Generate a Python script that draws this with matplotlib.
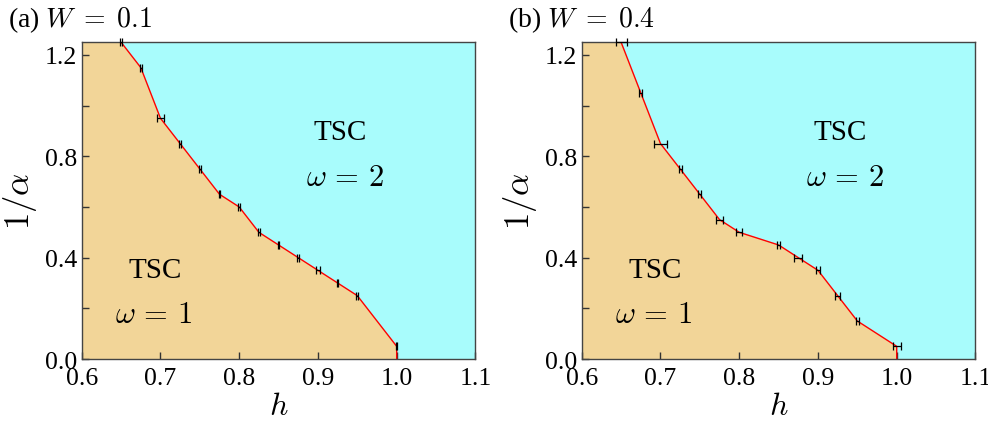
import matplotlib
matplotlib.use("Agg")
import matplotlib.pyplot as plt
from matplotlib.ticker import MultipleLocator

plt.rcParams["mathtext.fontset"] = "cm"
plt.rcParams["font.family"] = ["Liberation Serif", "DejaVu Serif"]

# Phase boundary of panel (a), W = 0.1
h_a = [0.65, 0.675, 0.70, 0.725, 0.75, 0.775, 0.80, 0.825, 0.85, 0.875, 0.90, 0.925, 0.95, 1.00]
inv_a = [1.25, 1.15, 0.95, 0.85, 0.75, 0.65, 0.60, 0.50, 0.45, 0.40, 0.35, 0.30, 0.25, 0.05]
err_a = [0.001, 0.001, 0.005, 0.0015, 0.001, 0.001, 0.0015, 0.001, 0.001, 0.001, 0.002, 0.001, 0.0015, 0.001]

# Phase boundary of panel (b), W = 0.4
h_b = [0.65, 0.675, 0.70, 0.725, 0.75, 0.775, 0.80, 0.85, 0.875, 0.90, 0.925, 0.95, 1.00]
inv_b = [1.25, 1.05, 0.85, 0.75, 0.65, 0.55, 0.50, 0.45, 0.40, 0.35, 0.25, 0.15, 0.05]
err_b = [0.007, 0.002, 0.008, 0.002, 0.002, 0.004, 0.004, 0.002, 0.005, 0.003, 0.003, 0.002, 0.005]

panels = [("(a)", "0.1", h_a, inv_a, err_a), ("(b)", "0.4", h_b, inv_b, err_b)]

xlim = (0.6, 1.1)
ylim = (0.0, 1.25)
xticks = [0.6, 0.7, 0.8, 0.9, 1.0, 1.1]
yticks = [0.0, 0.4, 0.8, 1.2]

orange = "#F2D598"
cyan = "#A8FCFC"

fig = plt.figure(figsize=(9.88, 4.31), dpi=100)
lefts = [0.0827, 0.5888]

for left, (tag, wval, h, inv, err) in zip(lefts, panels):
    ax = fig.add_axes([left, 0.1647, 0.3985, 0.735])
    ax.set_facecolor(cyan)
    # topological phase omega = 1 region below the boundary
    px = [xlim[0], xlim[0]] + list(h) + [h[-1]]
    py = [ylim[0], ylim[1]] + list(inv) + [ylim[0]]
    ax.fill(px, py, color=orange, lw=0, zorder=1)
    ax.plot(list(h) + [h[-1]], list(inv) + [ylim[0]], color="red", lw=1.0, zorder=2)
    ax.errorbar(h, inv, xerr=err, fmt="none", ecolor="black", elinewidth=0.9,
                capsize=3.2, capthick=0.9, zorder=3, clip_on=False)
    ax.set_xlim(*xlim)
    ax.set_ylim(*ylim)
    ax.set_xticks(xticks)
    ax.set_yticks(yticks)
    ax.set_xticklabels([f"{v:.1f}" for v in xticks])
    ax.set_yticklabels([f"{v:.1f}" for v in yticks])
    ax.yaxis.set_minor_locator(MultipleLocator(0.2))
    ax.tick_params(which="both", direction="in", labelsize=18.5, color="#333333", width=1.0)
    ax.tick_params(which="major", length=5)
    ax.tick_params(which="minor", length=5)
    ax.tick_params(axis="x", pad=6)
    for s in ax.spines.values():
        s.set_color("#444444")
        s.set_linewidth(1.0)
    ax.set_xlabel(r"$h$", fontsize=23, labelpad=2)
    ax.set_ylabel(r"$1/\alpha$", fontsize=25, labelpad=4)

    ax.text(0.928, 0.895, "TSC", fontsize=21, ha="center", va="center")
    ax.text(0.934, 0.716, r"$\omega\,=\,2$", fontsize=22, ha="center", va="center")
    ax.text(0.693, 0.351, "TSC", fontsize=21, ha="center", va="center")
    ax.text(0.691, 0.174, r"$\omega\,=\,1$", fontsize=22, ha="center", va="center")

    fig.text(left - 0.075, 1 - 27 / 431, f"{tag} " + r"$W\;=\;" + wval + "$",
             fontsize=20, ha="left", va="baseline")

fig.savefig("out.png", dpi=100)
